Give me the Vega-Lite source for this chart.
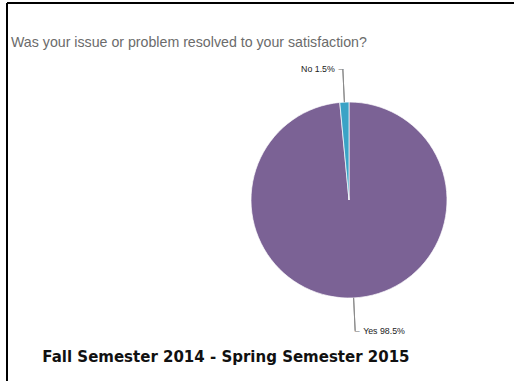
{
  "$schema": "https://vega.github.io/schema/vega-lite/v6.json",
  "autosize": "none",
  "width": 507,
  "height": 378,
  "padding": {"left": 7, "top": 3, "right": 0, "bottom": 0},
  "background": "white",
  "view": {"stroke": "transparent", "strokeWidth": 0, "fill": "transparent"},
  "title": {
    "text": "Was your issue or problem resolved to your satisfaction?",
    "subtitle": "\u200b\u00a0\u00a0\u00a0\u00a0\u00a0\u00a0Fall Semester 2014 - Spring Semester 2015",
    "anchor": "start",
    "frame": "group",
    "orient": "top",
    "offset": 0,
    "dx": 4,
    "dy": 362,
    "font": "Liberation Sans",
    "fontSize": 14.2,
    "fontWeight": "normal",
    "color": "#6b6b6b",
    "subtitleFont": "DejaVu Sans",
    "subtitleFontSize": 15,
    "subtitleFontWeight": "bold",
    "subtitleColor": "#111111",
    "subtitlePadding": 300
  },
  "data": {
    "values": [
      {"cat": "Yes", "value": 98.5, "label": "Yes 98.5%"},
      {"cat": "No", "value": 1.5, "label": "No 1.5%"}
    ]
  },
  "layer": [
    {
      "mark": {"type": "point", "opacity": 0},
      "encoding": {
        "x": {"field": "value", "type": "quantitative", "axis": {"orient": "top", "labels": false, "ticks": false, "grid": false, "title": null, "domain": true, "domainColor": "#000000", "domainWidth": 2, "translate": 0}},
        "y": {"field": "value", "type": "quantitative", "axis": {"orient": "left", "labels": false, "ticks": false, "grid": false, "title": null, "domain": true, "domainColor": "#000000", "domainWidth": 2, "translate": 0}}
      }
    },
    {
      "mark": {"type": "arc", "radius": 98, "stroke": "#ffffff", "strokeWidth": 0.7, "xOffset": 88.5, "yOffset": 8},
      "encoding": {
        "theta": {"field": "value", "type": "quantitative", "stack": true},
        "order": {"field": "cat", "sort": "descending"},
        "color": {
          "field": "cat",
          "type": "nominal",
          "scale": {"domain": ["Yes", "No"], "range": ["#7b6295", "#3aa3c6"]},
          "legend": null
        }
      }
    },
    {
      "mark": {"type": "arc", "radius": 131, "radius2": 98, "padAngle": 3, "fill": null, "strokeWidth": 1, "xOffset": 88.5, "yOffset": 8},
      "encoding": {
        "theta": {"field": "value", "type": "quantitative", "stack": true},
        "order": {"field": "cat", "sort": "descending"},
        "stroke": {"condition": {"test": "datum.cat === 'No'", "value": "#8a8a8a"}, "value": "transparent"}
      }
    },
    {
      "mark": {"type": "arc", "radius": 131, "radius2": 98, "padAngle": 3, "fill": null, "strokeWidth": 1, "xOffset": 88.5, "yOffset": 8},
      "encoding": {
        "theta": {"field": "value", "type": "quantitative", "stack": true, "scale": {"range": [3.14159265, 9.42477796]}},
        "order": {"field": "cat", "sort": "descending"},
        "stroke": {"condition": {"test": "datum.cat === 'No'", "value": "#8a8a8a"}, "value": "transparent"}
      }
    },
    {
      "mark": {"type": "text", "radius": 131, "align": "right", "baseline": "middle", "dx": -8, "xOffset": 88.5, "yOffset": 8, "font": "Liberation Sans", "fontSize": 8.8, "color": "#222222"},
      "encoding": {
        "theta": {"field": "value", "type": "quantitative", "stack": true},
        "order": {"field": "cat", "sort": "descending"},
        "text": {"condition": {"test": "datum.cat === 'No'", "field": "label"}, "value": ""}
      }
    },
    {
      "mark": {"type": "text", "radius": 131, "align": "right", "baseline": "middle", "dx": 0.5, "xOffset": 88.5, "yOffset": 8, "font": "Liberation Sans", "fontSize": 8.8, "color": "#8a8a8a"},
      "encoding": {
        "theta": {"field": "value", "type": "quantitative", "stack": true},
        "order": {"field": "cat", "sort": "descending"},
        "text": {"condition": {"test": "datum.cat === 'No'", "value": "\u2013"}, "value": ""}
      }
    },
    {
      "mark": {"type": "text", "radius": 131, "align": "left", "baseline": "middle", "dx": 8, "xOffset": 88.5, "yOffset": 8, "font": "Liberation Sans", "fontSize": 8.8, "color": "#222222"},
      "encoding": {
        "theta": {"field": "value", "type": "quantitative", "stack": true},
        "order": {"field": "cat", "sort": "descending"},
        "text": {"condition": {"test": "datum.cat === 'Yes'", "field": "label"}, "value": ""}
      }
    },
    {
      "mark": {"type": "text", "radius": 131, "align": "left", "baseline": "middle", "dx": -0.5, "xOffset": 88.5, "yOffset": 8, "font": "Liberation Sans", "fontSize": 8.8, "color": "#8a8a8a"},
      "encoding": {
        "theta": {"field": "value", "type": "quantitative", "stack": true},
        "order": {"field": "cat", "sort": "descending"},
        "text": {"condition": {"test": "datum.cat === 'Yes'", "value": "\u2013"}, "value": ""}
      }
    }
  ],
  "resolve": {"scale": {"theta": "independent"}},
  "config": {
    "view": {"stroke": "transparent"}
  }
}
